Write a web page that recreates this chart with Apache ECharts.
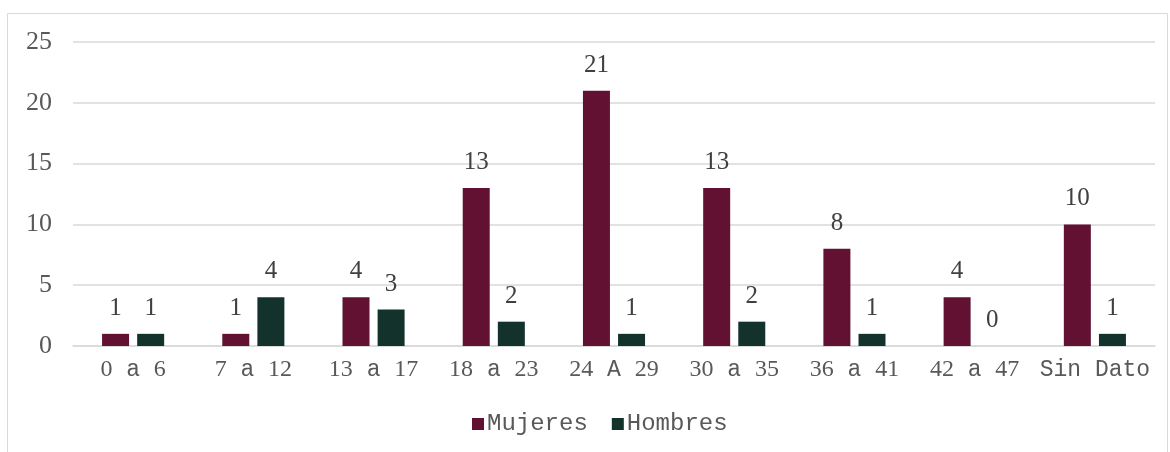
<!DOCTYPE html>
<html><head><meta charset="utf-8">
<script src="https://cdn.jsdelivr.net/npm/echarts@6/dist/echarts.min.js"></script>
<style>html,body{margin:0;padding:0;background:#fff}#c{width:1170px;height:452px}</style>
</head><body><div id="c"></div>
<script>
const categories = ["0 a 6","7 a 12","13 a 17","18 a 23","24 A 29","30 a 35","36 a 41","42 a 47","Sin Dato"];
const mujeres = [1,1,4,13,21,13,8,4,10];
const hombres = [1,4,3,2,1,2,1,0,1];
const seriesNames = ["Mujeres","Hombres"];

function richLabel(s){
  return s.replace(/(\d+)|([^\d]+)/g,(m,d,o)=> d ? '{n|'+d+'}' : '{m|'+o+'}');
}
const chart = echarts.init(document.getElementById('c'));
const lbl = {show:true, position:'top', distance:13, color:'#404040', fontFamily:'Liberation Serif', fontSize:25};
chart.setOption({
  animation:false,
  graphic:[{type:'rect', shape:{x:7.5,y:13.5,width:1160,height:450}, style:{fill:'none', stroke:'#d9d9d9', lineWidth:1}}],
  grid:{left:73, right:15, top:42, bottom:106},
  legend:{top:407, left:467, itemWidth:12, itemHeight:12, itemGap:24, icon:'rect',
    textStyle:{fontFamily:'Liberation Mono', fontSize:24, color:'#595959', padding:[0,0,0,-2]}},
  xAxis:{type:'category', data:categories,
    axisLine:{lineStyle:{color:'#d9d9d9', width:1.5}}, axisTick:{show:false},
    axisLabel:{interval:0, margin:12, formatter:v=>richLabel(v),
      rich:{n:{fontFamily:'Liberation Serif', fontSize:24, color:'#595959'},
            m:{fontFamily:'Liberation Mono', fontSize:23, color:'#595959'}}}},
  yAxis:{type:'value', min:0, max:25, interval:5,
    splitLine:{lineStyle:{color:'#d9d9d9', width:1.5}}, axisLine:{show:false}, axisTick:{show:false},
    axisLabel:{margin:21, fontFamily:'Liberation Serif', fontSize:26, color:'#595959'}},
  series:[
    {name:seriesNames[0], type:'bar', data:mujeres, barWidth:27, barGap:'30%', itemStyle:{color:'#621132'}, label:lbl},
    {name:seriesNames[1], type:'bar', data:hombres, barWidth:27, itemStyle:{color:'#13322B'}, label:lbl}
  ]
});
</script></body></html>
